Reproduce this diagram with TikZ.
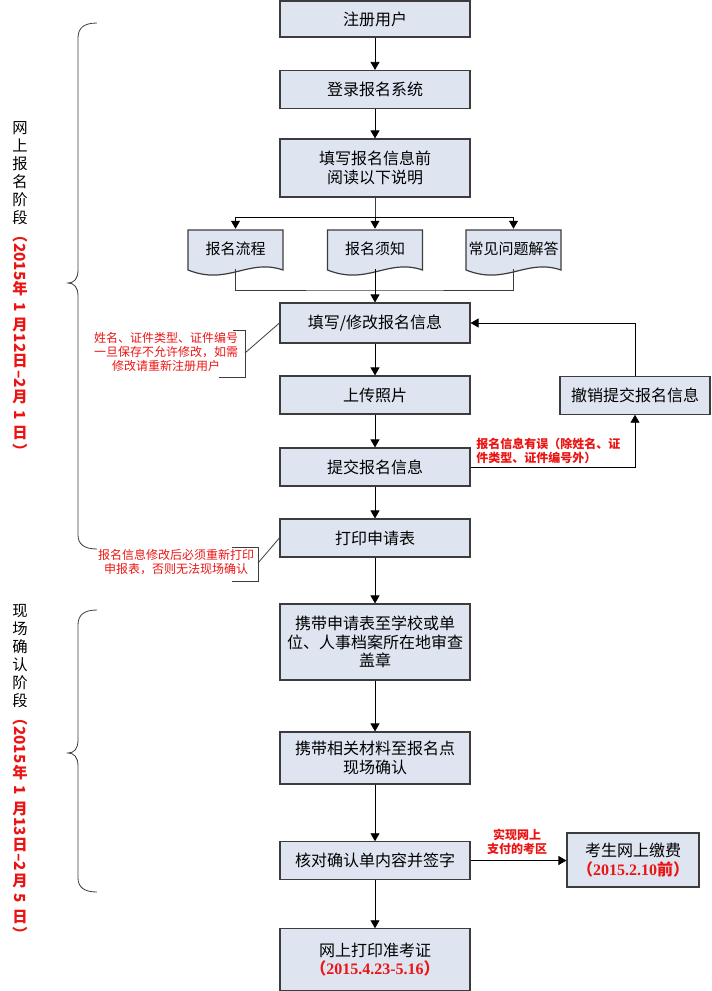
\documentclass[tikz,border=0pt]{standalone}
\usepackage{fontspec}
\setmainfont{Noto Sans CJK SC}
\newfontfamily\numfont{Liberation Serif}
\usetikzlibrary{arrows,positioning}
\definecolor{boxfill}{RGB}{222,229,241}
\definecolor{boxline}{RGB}{60,60,60}
\definecolor{notered}{RGB}{235,20,20}
\newcommand\rotnum[1]{\rotatebox[origin=c]{-90}{#1}}
\tikzset{
  box/.style={draw=boxline, line width=0.9pt, fill=boxfill, minimum width=142.5pt,
    align=center, inner sep=2pt, font=\fontsize{12}{14}\selectfont},
  docline/.style={draw=boxline, line width=0.9pt, fill=boxfill},
  doc/.style={minimum width=71.25pt, minimum height=30pt, inner sep=0pt,
    font=\fontsize{11.25}{13}\selectfont},
  note/.style={text=notered, align=center, inner sep=0pt, font=\fontsize{9}{10.5}\selectfont},
  arr/.style={-triangle 60, line width=0.6pt},
  link/.style={line width=0.6pt, draw=boxline},
  vtext/.style={align=center, inner sep=0pt, font=\fontsize{11.5}{13.5}\selectfont},
  vdate/.style={vtext, text=notered, font=\fontsize{11.5}{13.5}\selectfont\bfseries},
}

\begin{document}
\begin{tikzpicture}[x=0.75pt, y=-0.75pt]
    \path[use as bounding box] (0,0) rectangle (712,991);
    % Stage labels.
    \node[vtext, anchor=north] (stage1) at (20,121) {网\\上\\报\\名\\阶\\段};
    \node[vdate, below=2pt of stage1] (date1) {\rotnum{（2015}\\年\\\rotnum{1}\\月\\\rotnum{12}\\日\\\rotnum{–2}\\月\\\rotnum{1}\\日\\\rotnum{）}};
    \node[vtext, anchor=north] (stage2) at (20,604) {现\\场\\确\\认\\阶\\段};
    \node[vdate, below=2pt of stage2] (date2) {\rotnum{（2015}\\年\\\rotnum{1}\\月\\\rotnum{13}\\日\\\rotnum{–2}\\月\\\rotnum{5}\\日\\\rotnum{）}};
    % Braces.
    \draw[link] (97,23) .. controls (84,23) and (78,28) .. (78,38) -- (78,270)
      .. controls (78,279) and (74,283) .. (68,283) .. controls (74,283) and (78,287) .. (78,296)
      -- (78,535) .. controls (78,544) and (84,549) .. (97,549);
    \draw[link] (97,610) .. controls (84,610) and (78,615) .. (78,625) -- (78,740)
      .. controls (78,749) and (74,753) .. (68,753) .. controls (74,753) and (78,757) .. (78,766)
      -- (78,878) .. controls (78,887) and (84,892) .. (97,892);
    % Online steps.
    \node[box, minimum height=27pt] (reg) at (375,19) {注册用户};
    \node[box, minimum height=28.5pt] (login) at (375,89.5) {登录报名系统};
    \node[box, minimum height=43.5pt] (readme) at (375,168) {填写报名信息前\\阅读以下说明};
    \foreach \n/\xc/\txt in {flow/235.5/报名流程, notice/375/报名须知, faq/513.5/常见问题解答} {
      \filldraw[docline] (\xc-47.5,270) -- (\xc-47.5,230) -- (\xc+47.5,230) -- (\xc+47.5,270)
        .. controls +(-35,-12) and +(40,16) .. (\xc-47.5,270) -- cycle;
      \node[doc] (\n) at (\xc,249) {\txt};
    }
    \node[box, minimum height=30pt] (fill) at (375,323) {填写/修改报名信息};
    \node[box, minimum height=28.5pt] (photo) at (375,395) {上传照片};
    \node[box, minimum height=28.5pt] (submit) at (375,467) {提交报名信息};
    \node[box, minimum height=28.5pt] (print) at (375,538) {打印申请表};
    \node[box, minimum height=28pt, minimum width=112.5pt] (cancel) at (635,395.5) {撤销提交报名信息};
    % On-site steps.
    \node[box, minimum height=57pt] (stamp) at (375,642) {携带申请表至学校或单\\位、人事档案所在地审查\\盖章};
    \node[box, minimum height=39pt] (confirm) at (375,758) {携带相关材料至报名点\\现场确认};
    \node[box, minimum height=28pt] (check) at (375,860.5) {核对确认单内容并签字};
    \node[box, minimum height=40.5pt, minimum width=99pt] (pay) at (633,860)
      {考生网上缴费\\{\color{notered}\bfseries （{\numfont 2015.2.10}前）}};
    \node[box, minimum height=46pt] (ticket) at (375,959.5)
      {网上打印准考证\\{\color{notered}\bfseries （{\numfont 2015.4.23-5.16}）}};
    % Connectors.
    \draw[arr] (reg) -- (login);
    \draw[arr] (login) -- (readme);
    \coordinate (split) at (375,217);
    \draw[link] (readme) -- (split);
    \draw[arr] (split) -| (flow);
    \draw[arr] (split) -- (notice);
    \draw[arr] (split) -| (faq);
    \coordinate (merge) at (375,290);
    \draw[link] (flow.south) |- (merge) -| (faq.south);
    \draw[arr] (notice.south) -- (fill);
    \draw[arr] (fill) -- (photo);
    \draw[arr] (photo) -- (submit);
    \draw[arr] (submit) -- (print);
    \draw[arr] (submit) -| (cancel);
    \draw[arr] (cancel) |- (fill);
    \draw[arr] (print) -- (stamp);
    \draw[arr] (stamp) -- (confirm);
    \draw[arr] (confirm) -- (check);
    \draw[arr] (check.east) -- (check.east -| pay.west);
    \draw[arr] (check) -- (ticket);
    % Notes.
    \node[note] (note1) at (166,352) {姓名、证件类型、证件编号\\一旦保存不允许修改，如需\\修改请重新注册用户};
    \draw[link] (233,330) -- (245,330) -- (245,377) -- (219,377);
    \coordinate (tip1) at (245,353);
    \draw[link] (tip1) -- (fill.west);
    \node[note] (note2) at (176,562.5) {报名信息修改后必须重新打印\\申报表，否则无法现场确认};
    \draw[link] (232,547) -- (258,547) -- (258,581) -- (232,581);
    \coordinate (tip2) at (258,563);
    \draw[link] (tip2) -- (print.west);
    \node[note, anchor=west, align=left, font=\fontsize{9}{10.5}\selectfont\bfseries] (note3) at (476,450.5)
      {报名信息有误（除姓名、证\\件类型、证件编号外）};
    \node[note, font=\fontsize{9}{10.5}\selectfont\bfseries] (note4) at (517,841.5) {实现网上\\支付的考区};
  \end{tikzpicture}
\end{document}
